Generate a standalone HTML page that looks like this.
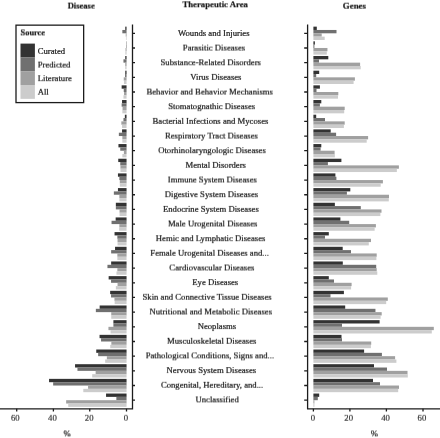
<!DOCTYPE html><html><head><meta charset="utf-8"><title>Disease and gene distribution by therapeutic area</title>
<style>html,body{margin:0;padding:0;background:#fff;overflow:hidden}svg{display:block}text{font-family:"Liberation Serif","Times New Roman",serif;fill:#1a1a1a;stroke:#1a1a1a;stroke-width:0.22px}.t{fill:#2a2a2a;stroke:#2a2a2a;stroke-width:0.15px}.b{font-weight:bold}</style></head><body>
<svg width="440" height="438" viewBox="0 0 440 438">
<rect width="440" height="438" fill="#fff"/>
<defs><filter id="sh1" x="-5%" y="-60%" width="110%" height="220%" color-interpolation-filters="sRGB"><feConvolveMatrix order="1 2" kernelMatrix="0.9 0.1" targetX="0" targetY="1" divisor="1" edgeMode="none" preserveAlpha="false"/></filter><filter id="sh2" x="-5%" y="-60%" width="110%" height="220%" color-interpolation-filters="sRGB"><feConvolveMatrix order="1 2" kernelMatrix="0.8 0.2" targetX="0" targetY="1" divisor="1" edgeMode="none" preserveAlpha="false"/></filter><filter id="sh3" x="-5%" y="-60%" width="110%" height="220%" color-interpolation-filters="sRGB"><feConvolveMatrix order="1 2" kernelMatrix="0.7 0.3" targetX="0" targetY="1" divisor="1" edgeMode="none" preserveAlpha="false"/></filter><filter id="sh4" x="-5%" y="-60%" width="110%" height="220%" color-interpolation-filters="sRGB"><feConvolveMatrix order="1 2" kernelMatrix="0.6 0.4" targetX="0" targetY="1" divisor="1" edgeMode="none" preserveAlpha="false"/></filter><filter id="sh5" x="-5%" y="-60%" width="110%" height="220%" color-interpolation-filters="sRGB"><feConvolveMatrix order="1 2" kernelMatrix="0.5 0.5" targetX="0" targetY="1" divisor="1" edgeMode="none" preserveAlpha="false"/></filter><filter id="sh6" x="-5%" y="-60%" width="110%" height="220%" color-interpolation-filters="sRGB"><feConvolveMatrix order="1 2" kernelMatrix="0.4 0.6" targetX="0" targetY="1" divisor="1" edgeMode="none" preserveAlpha="false"/></filter><filter id="sh7" x="-5%" y="-60%" width="110%" height="220%" color-interpolation-filters="sRGB"><feConvolveMatrix order="1 2" kernelMatrix="0.3 0.7" targetX="0" targetY="1" divisor="1" edgeMode="none" preserveAlpha="false"/></filter><filter id="sh8" x="-5%" y="-60%" width="110%" height="220%" color-interpolation-filters="sRGB"><feConvolveMatrix order="1 2" kernelMatrix="0.2 0.8" targetX="0" targetY="1" divisor="1" edgeMode="none" preserveAlpha="false"/></filter><filter id="sh9" x="-5%" y="-60%" width="110%" height="220%" color-interpolation-filters="sRGB"><feConvolveMatrix order="1 2" kernelMatrix="0.1 0.9" targetX="0" targetY="1" divisor="1" edgeMode="none" preserveAlpha="false"/></filter></defs>
<rect x="125.25" y="26.64" width="1.30" height="3.33" fill="#333333"/>
<rect x="313.40" y="26.64" width="3.40" height="3.33" fill="#333333"/>
<rect x="122.35" y="29.97" width="4.20" height="3.33" fill="#707070"/>
<rect x="313.40" y="29.97" width="23.10" height="3.33" fill="#707070"/>
<rect x="125.75" y="33.30" width="0.80" height="3.33" fill="#a0a0a0"/>
<rect x="313.40" y="33.30" width="8.30" height="3.33" fill="#a0a0a0"/>
<rect x="125.95" y="36.63" width="0.60" height="3.33" fill="#cccccc"/>
<rect x="313.40" y="36.63" width="11.30" height="3.33" fill="#cccccc"/>
<rect x="126.25" y="41.32" width="0.30" height="3.33" fill="#333333"/>
<rect x="313.40" y="41.32" width="1.50" height="3.33" fill="#333333"/>
<rect x="126.05" y="44.65" width="0.50" height="3.33" fill="#707070"/>
<rect x="313.40" y="44.65" width="1.00" height="3.33" fill="#707070"/>
<rect x="125.55" y="47.98" width="1.00" height="3.33" fill="#a0a0a0"/>
<rect x="313.40" y="47.98" width="14.05" height="3.33" fill="#a0a0a0"/>
<rect x="125.35" y="51.31" width="1.20" height="3.33" fill="#cccccc"/>
<rect x="313.40" y="51.31" width="13.40" height="3.33" fill="#cccccc"/>
<rect x="125.25" y="55.99" width="1.30" height="3.33" fill="#333333"/>
<rect x="313.40" y="55.99" width="14.90" height="3.33" fill="#333333"/>
<rect x="123.45" y="59.32" width="3.10" height="3.33" fill="#707070"/>
<rect x="313.40" y="59.32" width="5.60" height="3.33" fill="#707070"/>
<rect x="125.25" y="62.65" width="1.30" height="3.33" fill="#a0a0a0"/>
<rect x="313.40" y="62.65" width="46.70" height="3.33" fill="#a0a0a0"/>
<rect x="125.25" y="65.98" width="1.30" height="3.33" fill="#cccccc"/>
<rect x="313.40" y="65.98" width="47.30" height="3.33" fill="#cccccc"/>
<rect x="125.25" y="70.67" width="1.30" height="3.33" fill="#333333"/>
<rect x="313.40" y="70.67" width="5.80" height="3.33" fill="#333333"/>
<rect x="125.05" y="74.00" width="1.50" height="3.33" fill="#707070"/>
<rect x="313.40" y="74.00" width="2.80" height="3.33" fill="#707070"/>
<rect x="123.75" y="77.33" width="2.80" height="3.33" fill="#a0a0a0"/>
<rect x="313.40" y="77.33" width="41.50" height="3.33" fill="#a0a0a0"/>
<rect x="123.95" y="80.66" width="2.60" height="3.33" fill="#cccccc"/>
<rect x="313.40" y="80.66" width="40.20" height="3.33" fill="#cccccc"/>
<rect x="121.65" y="85.34" width="4.90" height="3.33" fill="#333333"/>
<rect x="313.40" y="85.34" width="6.50" height="3.33" fill="#333333"/>
<rect x="123.75" y="88.67" width="2.80" height="3.33" fill="#707070"/>
<rect x="313.40" y="88.67" width="3.10" height="3.33" fill="#707070"/>
<rect x="124.05" y="92.00" width="2.50" height="3.33" fill="#a0a0a0"/>
<rect x="313.40" y="92.00" width="24.90" height="3.33" fill="#a0a0a0"/>
<rect x="123.45" y="95.33" width="3.10" height="3.33" fill="#cccccc"/>
<rect x="313.40" y="95.33" width="24.60" height="3.33" fill="#cccccc"/>
<rect x="122.05" y="100.02" width="4.50" height="3.33" fill="#333333"/>
<rect x="313.40" y="100.02" width="7.90" height="3.33" fill="#333333"/>
<rect x="121.65" y="103.35" width="4.90" height="3.33" fill="#707070"/>
<rect x="313.40" y="103.35" width="6.50" height="3.33" fill="#707070"/>
<rect x="122.55" y="106.68" width="4.00" height="3.33" fill="#a0a0a0"/>
<rect x="313.40" y="106.68" width="31.30" height="3.33" fill="#a0a0a0"/>
<rect x="122.35" y="110.01" width="4.20" height="3.33" fill="#cccccc"/>
<rect x="313.40" y="110.01" width="30.80" height="3.33" fill="#cccccc"/>
<rect x="124.85" y="114.70" width="1.70" height="3.33" fill="#333333"/>
<rect x="313.40" y="114.70" width="2.80" height="3.33" fill="#333333"/>
<rect x="123.45" y="118.03" width="3.10" height="3.33" fill="#707070"/>
<rect x="313.40" y="118.03" width="11.60" height="3.33" fill="#707070"/>
<rect x="121.35" y="121.36" width="5.20" height="3.33" fill="#a0a0a0"/>
<rect x="313.40" y="121.36" width="31.30" height="3.33" fill="#a0a0a0"/>
<rect x="122.05" y="124.69" width="4.50" height="3.33" fill="#cccccc"/>
<rect x="313.40" y="124.69" width="30.50" height="3.33" fill="#cccccc"/>
<rect x="122.05" y="129.37" width="4.50" height="3.33" fill="#333333"/>
<rect x="313.40" y="129.37" width="17.30" height="3.33" fill="#333333"/>
<rect x="118.85" y="132.70" width="7.70" height="3.33" fill="#707070"/>
<rect x="313.40" y="132.70" width="22.70" height="3.33" fill="#707070"/>
<rect x="122.35" y="136.03" width="4.20" height="3.33" fill="#a0a0a0"/>
<rect x="313.40" y="136.03" width="54.70" height="3.33" fill="#a0a0a0"/>
<rect x="122.35" y="139.36" width="4.20" height="3.33" fill="#cccccc"/>
<rect x="313.40" y="139.36" width="53.30" height="3.33" fill="#cccccc"/>
<rect x="118.45" y="144.05" width="8.10" height="3.33" fill="#333333"/>
<rect x="313.40" y="144.05" width="7.90" height="3.33" fill="#333333"/>
<rect x="120.25" y="147.38" width="6.30" height="3.33" fill="#707070"/>
<rect x="313.40" y="147.38" width="7.20" height="3.33" fill="#707070"/>
<rect x="123.90" y="150.71" width="2.65" height="3.33" fill="#a0a0a0"/>
<rect x="313.40" y="150.71" width="21.20" height="3.33" fill="#a0a0a0"/>
<rect x="122.35" y="154.04" width="4.20" height="3.33" fill="#cccccc"/>
<rect x="313.40" y="154.04" width="21.45" height="3.33" fill="#cccccc"/>
<rect x="118.25" y="158.72" width="8.30" height="3.33" fill="#333333"/>
<rect x="313.40" y="158.72" width="28.00" height="3.33" fill="#333333"/>
<rect x="120.25" y="162.05" width="6.30" height="3.33" fill="#707070"/>
<rect x="313.40" y="162.05" width="14.50" height="3.33" fill="#707070"/>
<rect x="120.45" y="165.38" width="6.10" height="3.33" fill="#a0a0a0"/>
<rect x="313.40" y="165.38" width="85.50" height="3.33" fill="#a0a0a0"/>
<rect x="120.45" y="168.71" width="6.10" height="3.33" fill="#cccccc"/>
<rect x="313.40" y="168.71" width="83.45" height="3.33" fill="#cccccc"/>
<rect x="117.95" y="173.40" width="8.60" height="3.33" fill="#333333"/>
<rect x="313.40" y="173.40" width="22.00" height="3.33" fill="#333333"/>
<rect x="119.35" y="176.73" width="7.20" height="3.33" fill="#707070"/>
<rect x="313.40" y="176.73" width="23.00" height="3.33" fill="#707070"/>
<rect x="119.80" y="180.06" width="6.75" height="3.33" fill="#a0a0a0"/>
<rect x="313.40" y="180.06" width="69.50" height="3.33" fill="#a0a0a0"/>
<rect x="119.80" y="183.39" width="6.75" height="3.33" fill="#cccccc"/>
<rect x="313.40" y="183.39" width="67.30" height="3.33" fill="#cccccc"/>
<rect x="117.95" y="188.08" width="8.60" height="3.33" fill="#333333"/>
<rect x="313.40" y="188.08" width="36.90" height="3.33" fill="#333333"/>
<rect x="113.85" y="191.41" width="12.70" height="3.33" fill="#707070"/>
<rect x="313.40" y="191.41" width="33.50" height="3.33" fill="#707070"/>
<rect x="119.35" y="194.74" width="7.20" height="3.33" fill="#a0a0a0"/>
<rect x="313.40" y="194.74" width="75.60" height="3.33" fill="#a0a0a0"/>
<rect x="119.35" y="198.07" width="7.20" height="3.33" fill="#cccccc"/>
<rect x="313.40" y="198.07" width="75.40" height="3.33" fill="#cccccc"/>
<rect x="115.85" y="202.75" width="10.70" height="3.33" fill="#333333"/>
<rect x="313.40" y="202.75" width="21.45" height="3.33" fill="#333333"/>
<rect x="115.85" y="206.08" width="10.70" height="3.33" fill="#707070"/>
<rect x="313.40" y="206.08" width="47.40" height="3.33" fill="#707070"/>
<rect x="119.55" y="209.41" width="7.00" height="3.33" fill="#a0a0a0"/>
<rect x="313.40" y="209.41" width="68.10" height="3.33" fill="#a0a0a0"/>
<rect x="119.55" y="212.74" width="7.00" height="3.33" fill="#cccccc"/>
<rect x="313.40" y="212.74" width="67.00" height="3.33" fill="#cccccc"/>
<rect x="115.65" y="217.43" width="10.90" height="3.33" fill="#333333"/>
<rect x="313.40" y="217.43" width="27.00" height="3.33" fill="#333333"/>
<rect x="111.55" y="220.76" width="15.00" height="3.33" fill="#707070"/>
<rect x="313.40" y="220.76" width="35.80" height="3.33" fill="#707070"/>
<rect x="119.35" y="224.09" width="7.20" height="3.33" fill="#a0a0a0"/>
<rect x="313.40" y="224.09" width="62.50" height="3.33" fill="#a0a0a0"/>
<rect x="119.15" y="227.42" width="7.40" height="3.33" fill="#cccccc"/>
<rect x="313.40" y="227.42" width="61.25" height="3.33" fill="#cccccc"/>
<rect x="114.55" y="232.10" width="12.00" height="3.33" fill="#333333"/>
<rect x="313.40" y="232.10" width="15.40" height="3.33" fill="#333333"/>
<rect x="117.35" y="235.43" width="9.20" height="3.33" fill="#707070"/>
<rect x="313.40" y="235.43" width="11.60" height="3.33" fill="#707070"/>
<rect x="117.55" y="238.76" width="9.00" height="3.33" fill="#a0a0a0"/>
<rect x="313.40" y="238.76" width="57.60" height="3.33" fill="#a0a0a0"/>
<rect x="117.55" y="242.09" width="9.00" height="3.33" fill="#cccccc"/>
<rect x="313.40" y="242.09" width="55.40" height="3.33" fill="#cccccc"/>
<rect x="115.05" y="246.78" width="11.50" height="3.33" fill="#333333"/>
<rect x="313.40" y="246.78" width="29.30" height="3.33" fill="#333333"/>
<rect x="111.15" y="250.11" width="15.40" height="3.33" fill="#707070"/>
<rect x="313.40" y="250.11" width="37.60" height="3.33" fill="#707070"/>
<rect x="117.35" y="253.44" width="9.20" height="3.33" fill="#a0a0a0"/>
<rect x="313.40" y="253.44" width="63.30" height="3.33" fill="#a0a0a0"/>
<rect x="117.35" y="256.77" width="9.20" height="3.33" fill="#cccccc"/>
<rect x="313.40" y="256.77" width="63.00" height="3.33" fill="#cccccc"/>
<rect x="111.15" y="261.46" width="15.40" height="3.33" fill="#333333"/>
<rect x="313.40" y="261.46" width="29.40" height="3.33" fill="#333333"/>
<rect x="107.45" y="264.79" width="19.10" height="3.33" fill="#707070"/>
<rect x="313.40" y="264.79" width="62.80" height="3.33" fill="#707070"/>
<rect x="117.35" y="268.12" width="9.20" height="3.33" fill="#a0a0a0"/>
<rect x="313.40" y="268.12" width="63.30" height="3.33" fill="#a0a0a0"/>
<rect x="116.45" y="271.45" width="10.10" height="3.33" fill="#cccccc"/>
<rect x="313.40" y="271.45" width="63.90" height="3.33" fill="#cccccc"/>
<rect x="108.65" y="276.13" width="17.90" height="3.33" fill="#333333"/>
<rect x="313.40" y="276.13" width="15.40" height="3.33" fill="#333333"/>
<rect x="111.05" y="279.46" width="15.50" height="3.33" fill="#707070"/>
<rect x="313.40" y="279.46" width="20.60" height="3.33" fill="#707070"/>
<rect x="117.55" y="282.79" width="9.00" height="3.33" fill="#a0a0a0"/>
<rect x="313.40" y="282.79" width="38.20" height="3.33" fill="#a0a0a0"/>
<rect x="115.85" y="286.12" width="10.70" height="3.33" fill="#cccccc"/>
<rect x="313.40" y="286.12" width="37.70" height="3.33" fill="#cccccc"/>
<rect x="110.15" y="290.81" width="16.40" height="3.33" fill="#333333"/>
<rect x="313.40" y="290.81" width="30.50" height="3.33" fill="#333333"/>
<rect x="111.05" y="294.14" width="15.50" height="3.33" fill="#707070"/>
<rect x="313.40" y="294.14" width="17.10" height="3.33" fill="#707070"/>
<rect x="114.45" y="297.47" width="12.10" height="3.33" fill="#a0a0a0"/>
<rect x="313.40" y="297.47" width="74.40" height="3.33" fill="#a0a0a0"/>
<rect x="114.65" y="300.80" width="11.90" height="3.33" fill="#cccccc"/>
<rect x="313.40" y="300.80" width="72.80" height="3.33" fill="#cccccc"/>
<rect x="99.65" y="305.48" width="26.90" height="3.33" fill="#333333"/>
<rect x="313.40" y="305.48" width="31.80" height="3.33" fill="#333333"/>
<rect x="95.85" y="308.81" width="30.70" height="3.33" fill="#707070"/>
<rect x="313.40" y="308.81" width="62.05" height="3.33" fill="#707070"/>
<rect x="111.25" y="312.14" width="15.30" height="3.33" fill="#a0a0a0"/>
<rect x="313.40" y="312.14" width="68.30" height="3.33" fill="#a0a0a0"/>
<rect x="111.25" y="315.47" width="15.30" height="3.33" fill="#cccccc"/>
<rect x="313.40" y="315.47" width="67.20" height="3.33" fill="#cccccc"/>
<rect x="113.40" y="320.16" width="13.15" height="3.33" fill="#333333"/>
<rect x="313.40" y="320.16" width="66.20" height="3.33" fill="#333333"/>
<rect x="113.40" y="323.49" width="13.15" height="3.33" fill="#707070"/>
<rect x="313.40" y="323.49" width="28.60" height="3.33" fill="#707070"/>
<rect x="108.45" y="326.82" width="18.10" height="3.33" fill="#a0a0a0"/>
<rect x="313.40" y="326.82" width="120.40" height="3.33" fill="#a0a0a0"/>
<rect x="110.55" y="330.15" width="16.00" height="3.33" fill="#cccccc"/>
<rect x="313.40" y="330.15" width="118.40" height="3.33" fill="#cccccc"/>
<rect x="99.55" y="334.84" width="27.00" height="3.33" fill="#333333"/>
<rect x="313.40" y="334.84" width="28.10" height="3.33" fill="#333333"/>
<rect x="101.05" y="338.17" width="25.50" height="3.33" fill="#707070"/>
<rect x="313.40" y="338.17" width="28.60" height="3.33" fill="#707070"/>
<rect x="111.35" y="341.50" width="15.20" height="3.33" fill="#a0a0a0"/>
<rect x="313.40" y="341.50" width="57.80" height="3.33" fill="#a0a0a0"/>
<rect x="110.25" y="344.83" width="16.30" height="3.33" fill="#cccccc"/>
<rect x="313.40" y="344.83" width="57.50" height="3.33" fill="#cccccc"/>
<rect x="96.25" y="349.51" width="30.30" height="3.33" fill="#333333"/>
<rect x="313.40" y="349.51" width="50.70" height="3.33" fill="#333333"/>
<rect x="98.15" y="352.84" width="28.40" height="3.33" fill="#707070"/>
<rect x="313.40" y="352.84" width="68.50" height="3.33" fill="#707070"/>
<rect x="106.85" y="356.17" width="19.70" height="3.33" fill="#a0a0a0"/>
<rect x="313.40" y="356.17" width="81.70" height="3.33" fill="#a0a0a0"/>
<rect x="105.15" y="359.50" width="21.40" height="3.33" fill="#cccccc"/>
<rect x="313.40" y="359.50" width="83.00" height="3.33" fill="#cccccc"/>
<rect x="75.05" y="364.19" width="51.50" height="3.33" fill="#333333"/>
<rect x="313.40" y="364.19" width="60.60" height="3.33" fill="#333333"/>
<rect x="77.45" y="367.52" width="49.10" height="3.33" fill="#707070"/>
<rect x="313.40" y="367.52" width="73.60" height="3.33" fill="#707070"/>
<rect x="95.65" y="370.85" width="30.90" height="3.33" fill="#a0a0a0"/>
<rect x="313.40" y="370.85" width="94.10" height="3.33" fill="#a0a0a0"/>
<rect x="92.20" y="374.18" width="34.35" height="3.33" fill="#cccccc"/>
<rect x="313.40" y="374.18" width="94.40" height="3.33" fill="#cccccc"/>
<rect x="49.05" y="378.86" width="77.50" height="3.33" fill="#333333"/>
<rect x="313.40" y="378.86" width="59.60" height="3.33" fill="#333333"/>
<rect x="53.15" y="382.19" width="73.40" height="3.33" fill="#707070"/>
<rect x="313.40" y="382.19" width="66.60" height="3.33" fill="#707070"/>
<rect x="88.05" y="385.52" width="38.50" height="3.33" fill="#a0a0a0"/>
<rect x="313.40" y="385.52" width="85.60" height="3.33" fill="#a0a0a0"/>
<rect x="83.30" y="388.85" width="43.25" height="3.33" fill="#cccccc"/>
<rect x="313.40" y="388.85" width="84.80" height="3.33" fill="#cccccc"/>
<rect x="106.05" y="393.54" width="20.50" height="3.33" fill="#333333"/>
<rect x="313.40" y="393.54" width="5.80" height="3.33" fill="#333333"/>
<rect x="116.35" y="396.87" width="10.20" height="3.33" fill="#707070"/>
<rect x="313.40" y="396.87" width="4.40" height="3.33" fill="#707070"/>
<rect x="66.15" y="400.20" width="60.40" height="3.33" fill="#a0a0a0"/>
<rect x="313.40" y="400.20" width="1.00" height="3.33" fill="#a0a0a0"/>
<rect x="68.25" y="403.53" width="58.30" height="3.33" fill="#cccccc"/>
<rect x="313.40" y="403.53" width="1.00" height="3.33" fill="#cccccc"/>
<g stroke="#1c1c1c" stroke-width="1.3" fill="none">
<path d="M132.5 24.4V408.8H0"/>
<path d="M307.6 24.4V408.8H440"/>
<path d="M132.5 33.30h2.5M307.6 33.30h-3.4M132.5 47.98h2.5M307.6 47.98h-3.4M132.5 62.65h2.5M307.6 62.65h-3.4M132.5 77.33h2.5M307.6 77.33h-3.4M132.5 92.00h2.5M307.6 92.00h-3.4M132.5 106.68h2.5M307.6 106.68h-3.4M132.5 121.36h2.5M307.6 121.36h-3.4M132.5 136.03h2.5M307.6 136.03h-3.4M132.5 150.71h2.5M307.6 150.71h-3.4M132.5 165.38h2.5M307.6 165.38h-3.4M132.5 180.06h2.5M307.6 180.06h-3.4M132.5 194.74h2.5M307.6 194.74h-3.4M132.5 209.41h2.5M307.6 209.41h-3.4M132.5 224.09h2.5M307.6 224.09h-3.4M132.5 238.76h2.5M307.6 238.76h-3.4M132.5 253.44h2.5M307.6 253.44h-3.4M132.5 268.12h2.5M307.6 268.12h-3.4M132.5 282.79h2.5M307.6 282.79h-3.4M132.5 297.47h2.5M307.6 297.47h-3.4M132.5 312.14h2.5M307.6 312.14h-3.4M132.5 326.82h2.5M307.6 326.82h-3.4M132.5 341.50h2.5M307.6 341.50h-3.4M132.5 356.17h2.5M307.6 356.17h-3.4M132.5 370.85h2.5M307.6 370.85h-3.4M132.5 385.52h2.5M307.6 385.52h-3.4M132.5 400.20h2.5M307.6 400.20h-3.4M126.5 408.8v2.7M89.75 408.8v2.7M53.4 408.8v2.7M16.7 408.8v2.7M313.4 408.8v2.7M349.9 408.8v2.7M386.4 408.8v2.7M423.0 408.8v2.7"/>
</g>
<text x="213.75" y="36" font-size="8.68" text-anchor="middle">Wounds and Injuries</text>
<g filter="url(#sh6)"><text x="214.00" y="50" font-size="8.68" text-anchor="middle">Parasitic Diseases</text></g>
<g filter="url(#sh3)"><text x="210.75" y="65" font-size="8.68" text-anchor="middle">Substance-Related Disorders</text></g>
<g filter="url(#sh9)"><text x="215.88" y="79" font-size="8.68" text-anchor="middle">Virus Diseases</text></g>
<g filter="url(#sh6)"><text x="209.70" y="94" font-size="8.68" text-anchor="middle">Behavior and Behavior Mechanisms</text></g>
<g filter="url(#sh2)"><text x="211.70" y="109" font-size="8.68" text-anchor="middle">Stomatognathic Diseases</text></g>
<g filter="url(#sh9)"><text x="210.50" y="123" font-size="8.68" text-anchor="middle">Bacterial Infections and Mycoses</text></g>
<g filter="url(#sh6)"><text x="211.45" y="138" font-size="8.68" text-anchor="middle">Respiratory Tract Diseases</text></g>
<g filter="url(#sh2)"><text x="212.00" y="153" font-size="8.68" text-anchor="middle">Otorhinolaryngologic Diseases</text></g>
<g filter="url(#sh9)"><text x="215.75" y="167" font-size="8.68" text-anchor="middle">Mental Disorders</text></g>
<g filter="url(#sh5)"><text x="212.35" y="182" font-size="8.68" text-anchor="middle">Immune System Diseases</text></g>
<g filter="url(#sh2)"><text x="211.45" y="197" font-size="8.68" text-anchor="middle">Digestive System Diseases</text></g>
<g filter="url(#sh9)"><text x="210.85" y="211" font-size="8.68" text-anchor="middle">Endocrine System Diseases</text></g>
<g filter="url(#sh5)"><text x="212.70" y="226" font-size="8.68" text-anchor="middle">Male Urogenital Diseases</text></g>
<g filter="url(#sh2)"><text x="210.60" y="241" font-size="8.68" text-anchor="middle">Hemic and Lymphatic Diseases</text></g>
<g filter="url(#sh8)"><text x="209.58" y="255" font-size="8.68" text-anchor="middle">Female Urogenital Diseases and...</text></g>
<g filter="url(#sh5)"><text x="211.88" y="270" font-size="8.68" text-anchor="middle">Cardiovascular Diseases</text></g>
<g filter="url(#sh1)"><text x="215.25" y="285" font-size="8.68" text-anchor="middle">Eye Diseases</text></g>
<g filter="url(#sh8)"><text x="207.10" y="299" font-size="8.68" text-anchor="middle">Skin and Connective Tissue Diseases</text></g>
<g filter="url(#sh5)"><text x="210.72" y="314" font-size="8.68" text-anchor="middle">Nutritional and Metabolic Diseases</text></g>
<g filter="url(#sh1)"><text x="216.90" y="329" font-size="8.68" text-anchor="middle">Neoplasms</text></g>
<g filter="url(#sh8)"><text x="211.70" y="343" font-size="8.68" text-anchor="middle">Musculoskeletal Diseases</text></g>
<g filter="url(#sh4)"><text x="209.90" y="358" font-size="8.68" text-anchor="middle">Pathological Conditions, Signs and...</text></g>
<g filter="url(#sh1)"><text x="211.40" y="373" font-size="8.68" text-anchor="middle">Nervous System Diseases</text></g>
<g filter="url(#sh8)"><text x="212.05" y="387" font-size="8.68" text-anchor="middle">Congenital, Hereditary, and...</text></g>
<g filter="url(#sh4)"><text x="217.12" y="402" font-size="8.68" text-anchor="middle">Unclassified</text></g>
<g filter="url(#sh6)"><text class="b" x="81.18" y="8" font-size="8.55" text-anchor="middle">Disease</text></g>
<g filter="url(#sh3)"><text class="b" x="215.20" y="7" font-size="8.74" text-anchor="middle">Therapeutic Area</text></g>
<g filter="url(#sh7)"><text class="b" x="354.40" y="8" font-size="8.85" text-anchor="middle">Genes</text></g>
<g filter="url(#sh8)"><text class="t" x="126.00" y="420" font-size="8.7" text-anchor="middle">0</text></g>
<g filter="url(#sh8)"><text class="t" x="89.20" y="420" font-size="8.7" text-anchor="middle">20</text></g>
<g filter="url(#sh8)"><text class="t" x="52.40" y="420" font-size="8.7" text-anchor="middle">40</text></g>
<g filter="url(#sh8)"><text class="t" x="15.30" y="420" font-size="8.7" text-anchor="middle">60</text></g>
<g filter="url(#sh8)"><text class="t" x="313.00" y="420" font-size="8.7" text-anchor="middle">0</text></g>
<g filter="url(#sh8)"><text class="t" x="348.70" y="420" font-size="8.7" text-anchor="middle">20</text></g>
<g filter="url(#sh8)"><text class="t" x="385.55" y="420" font-size="8.7" text-anchor="middle">40</text></g>
<g filter="url(#sh8)"><text class="t" x="421.90" y="420" font-size="8.7" text-anchor="middle">60</text></g>
<g filter="url(#sh4)"><text x="67.00" y="436" font-size="8.68" text-anchor="middle">%</text></g>
<g filter="url(#sh4)"><text x="374.40" y="436" font-size="8.68" text-anchor="middle">%</text></g>
<rect x="16" y="25.15" width="67.65" height="77.45" fill="#fff" stroke="#1c1c1c" stroke-width="1.3"/>
<g filter="url(#sh4)"><text class="b" x="20.60" y="35" font-size="8.35">Source</text></g>
<rect x="20.5" y="43.60" width="14.4" height="13.85" fill="#333333"/>
<text x="37.70" y="54" font-size="8.68">Curated</text>
<rect x="20.5" y="57.40" width="14.4" height="13.85" fill="#707070"/>
<g filter="url(#sh6)"><text x="37.70" y="67" font-size="8.68">Predicted</text></g>
<rect x="20.5" y="71.20" width="14.4" height="13.85" fill="#a0a0a0"/>
<g filter="url(#sh2)"><text x="37.70" y="81" font-size="8.68">Literature</text></g>
<rect x="20.5" y="85.00" width="14.4" height="13.85" fill="#cccccc"/>
<g filter="url(#sh8)"><text x="37.70" y="94" font-size="8.68">All</text></g>
</svg></body></html>
